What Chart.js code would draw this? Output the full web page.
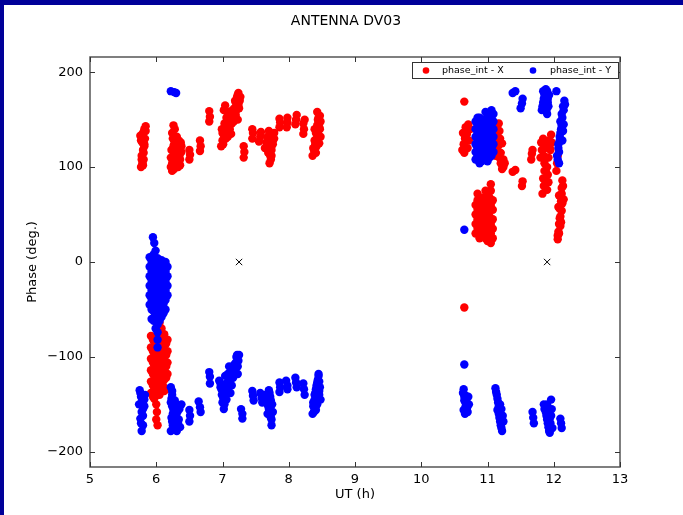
<!DOCTYPE html>
<html>
<head>
<meta charset="utf-8">
<script src="https://cdn.jsdelivr.net/npm/chart.js@4/dist/chart.umd.min.js"></script>
<style>
  html, body { margin: 0; padding: 0; background: #fff; }
  canvas { display: block; }
</style>
</head>
<body>
<canvas id="phaseChart" width="683" height="515"></canvas>
<script>
// ticks
const xTicks = [5, 6, 7, 8, 9, 10, 11, 12, 13];
const yTicks = [-200, -100, 0, 100, 200];

// phase_int - X  [UT (h), phase (deg)]
const phaseX = [
  [5.77,100],[5.79,104],[5.81,108],[5.78,112],[5.80,118],[5.82,122],[5.79,126],[5.83,130],[5.76,133],[5.80,136],[5.82,140],[5.84,143],[5.77,128],[5.81,115],[5.84,138],
  [5.79,132],[5.82,124],[5.80,102],[5.78,108],
  [6.24,96],[6.27,98],[6.30,100],[6.24,104],[6.32,106],[6.26,110],[6.35,112],[6.29,115],[6.23,118],[6.33,120],[6.27,124],[6.37,126],[6.25,130],[6.31,132],[6.24,136],[6.28,140],[6.26,144],[6.34,116],[6.30,108],[6.38,122],[6.22,100],[6.36,102],
  [6.26,100],[6.28,106],[6.32,112],[6.30,118],[6.26,122],[6.34,128],[6.29,128],[6.22,110],[6.33,100],[6.36,108],[6.38,116],
  [6.50,108],[6.51,113],[6.50,118],
  [6.66,117],[6.67,122],[6.66,128],
  [6.80,148],[6.81,153],[6.80,159],
  [6.98,122],[7.00,128],[7.02,134],[6.99,140],[7.03,146],[7.05,138],[7.08,132],[7.06,152],[7.09,144],[7.11,140],[7.12,150],[7.10,158],[7.14,146],[7.16,155],[7.18,162],[7.20,168],[7.22,174],[7.24,178],[7.21,160],[7.23,150],[7.26,170],[7.25,162],[7.02,160],[7.04,165],[7.13,135],
  [7.00,136],[7.03,140],[7.07,146],[7.11,152],[7.15,160],[7.19,170],[7.23,176],[7.17,148],[7.20,155],[7.24,166],[7.27,174],[7.01,124],[7.05,130],[7.08,156],
  [7.32,110],[7.33,116],[7.32,122],
  [7.45,130],[7.46,136],[7.45,140],
  [7.55,127],[7.57,132],[7.58,137],
  [7.64,120],[7.66,126],[7.68,132],[7.70,138],[7.72,112],[7.74,118],[7.76,124],[7.78,130],[7.71,104],[7.73,108],[7.75,135],[7.69,115],
  [7.67,122],[7.70,128],[7.73,134],[7.76,128],[7.72,120],[7.78,136],[7.74,112],
  [7.86,142],[7.87,147],[7.86,151],
  [7.97,142],[7.98,147],[7.98,152],
  [8.10,145],[8.11,150],[8.12,155],
  [8.22,135],[8.23,140],[8.22,146],[8.24,150],
  [8.36,112],[8.38,118],[8.40,124],[8.42,130],[8.44,136],[8.46,142],[8.45,148],[8.47,154],[8.43,158],[8.48,132],[8.39,140],[8.41,115],[8.46,125],[8.44,150],
  [8.37,120],[8.39,128],[8.41,136],[8.43,144],[8.45,152],[8.47,140],[8.48,148],[8.42,122],
  [5.92,-78],[5.92,-90],[5.92,-102],[5.92,-114],[5.92,-126],[5.92,-138],
  [5.95,-82],[5.95,-94],[5.95,-106],[5.95,-118],[5.95,-130],[5.95,-142],
  [5.97,-84],[5.97,-96],[5.97,-108],[5.97,-120],[5.97,-132],[5.97,-144],
  [6.00,-78],[6.00,-88],[6.00,-98],[6.00,-110],[6.00,-122],[6.00,-134],
  [6.02,-80],[6.02,-92],[6.02,-104],[6.02,-116],[6.02,-128],[6.02,-140],
  [6.05,-80],[6.05,-92],[6.05,-104],[6.05,-116],[6.05,-128],[6.05,-140],
  [6.07,-86],[6.07,-98],[6.07,-110],[6.07,-122],[6.07,-134],
  [6.10,-82],[6.10,-94],[6.10,-106],[6.10,-118],[6.10,-130],
  [6.12,-76],[6.12,-88],[6.12,-100],[6.12,-112],[6.12,-124],[6.12,-136],
  [6.15,-86],[6.15,-98],[6.15,-110],[6.15,-122],[6.15,-134],
  [6.17,-82],[6.17,-94],[6.17,-106],[6.17,-118],
  [6.05,-64],[6.08,-70],[6.00,-150],[6.01,-158],[6.00,-166],[6.02,-172],
  [10.65,169],[10.65,-48],
  [10.62,118],[10.64,124],[10.66,130],[10.63,136],[10.67,142],[10.70,120],[10.72,128],[10.69,135],[10.74,140],[10.65,115],[10.71,145],
  [10.82,30],[10.82,40],[10.82,50],[10.82,60],
  [10.85,35],[10.85,45],[10.85,55],[10.85,65],[10.85,72],
  [10.88,25],[10.88,35],[10.88,45],[10.88,55],[10.88,65],
  [10.91,30],[10.91,40],[10.91,50],[10.91,60],
  [10.94,28],[10.94,38],[10.94,48],[10.94,58],[10.94,68],
  [10.97,25],[10.97,35],[10.97,45],[10.97,55],[10.97,65],[10.97,75],
  [11.00,22],[11.00,32],[11.00,42],[11.00,52],[11.00,62],[11.00,72],
  [11.03,28],[11.03,38],[11.03,48],[11.03,55],[11.03,68],
  [11.05,20],[11.05,30],[11.05,40],[11.05,60],[11.05,75],[11.05,82],
  [11.08,25],[11.08,35],[11.08,45],[11.08,55],[11.08,65],
  [11.12,140],[11.14,134],[11.13,128],[11.16,122],[11.15,116],[11.18,110],[11.20,104],[11.22,98],[11.17,146],[11.24,108],[11.19,130],
  [11.14,120],[11.16,130],[11.18,138],[11.20,115],[11.22,125],[11.24,100],[11.12,112],[11.26,104],
  [11.38,95],[11.42,97],
  [11.52,80],[11.53,85],
  [11.66,108],[11.67,114],[11.68,118],
  [11.80,110],[11.82,118],[11.81,126],[11.84,130],
  [11.83,72],[11.85,80],[11.87,88],[11.88,96],[11.86,104],[11.90,76],[11.92,84],[11.91,92],[11.89,110],
  [11.84,88],[11.86,96],[11.88,84],[11.90,100],[11.92,110],[11.85,112],[11.87,120],[11.89,126],[11.93,128],[11.94,120],
  [11.95,118],[11.97,126],[11.96,134],
  [12.04,96],[12.05,104],[12.06,112],
  [12.06,24],[12.07,32],[12.08,40],[12.10,48],[12.09,56],[12.11,64],[12.12,72],[12.14,80],[12.13,86],[12.07,58],[12.11,42],[12.15,66],
  [12.08,30],[12.09,46],[12.10,38],[12.12,54],[12.13,62],[12.12,78],[12.08,70],[12.06,28]
];

// phase_int - Y  [UT (h), phase (deg)]
const phaseY = [
  [6.22,180],[6.27,179],[6.30,178],
  [5.95,26],[5.97,20],[5.99,12],
  [5.90,5],[5.90,-5],[5.90,-15],[5.90,-25],[5.90,-35],[5.90,-45],
  [5.93,0],[5.93,-10],[5.93,-20],[5.93,-30],[5.93,-40],[5.93,-50],[5.93,-60],
  [5.96,8],[5.96,-2],[5.96,-12],[5.96,-22],[5.96,-32],[5.96,-42],[5.96,-52],[5.96,-62],
  [5.99,2],[5.99,-8],[5.99,-18],[5.99,-28],[5.99,-38],[5.99,-48],[5.99,-58],[5.99,-70],
  [6.02,4],[6.02,-6],[6.02,-16],[6.02,-26],[6.02,-36],[6.02,-46],[6.02,-56],
  [6.05,-2],[6.05,-12],[6.05,-22],[6.05,-32],[6.05,-42],[6.05,-52],[6.05,-62],
  [6.08,2],[6.08,-8],[6.08,-18],[6.08,-28],[6.08,-38],[6.08,-48],[6.08,-58],
  [6.11,-4],[6.11,-14],[6.11,-24],[6.11,-34],[6.11,-44],[6.11,-54],
  [6.14,0],[6.14,-10],[6.14,-20],[6.14,-30],[6.14,-40],[6.14,-50],
  [6.17,-5],[6.17,-15],[6.17,-25],[6.17,-35],
  [6.02,-66],[6.02,-74],[6.02,-82],[6.02,-90],
  [5.75,-135],[5.77,-142],[5.74,-150],[5.78,-158],[5.76,-165],[5.80,-172],[5.78,-178],[5.82,-145],[5.80,-155],[5.83,-140],
  [5.76,-138],[5.78,-148],[5.80,-162],[5.77,-170],[5.82,-152],
  [6.22,-132],[6.24,-140],[6.22,-148],[6.26,-156],[6.23,-164],[6.25,-172],[6.22,-178],[6.30,-150],[6.32,-158],[6.34,-166],[6.36,-174],[6.31,-178],[6.38,-150],[6.28,-168],
  [6.24,-136],[6.24,-152],[6.25,-160],[6.24,-168],[6.28,-146],[6.30,-162],[6.33,-170],[6.35,-155],[6.27,-176],[6.23,-144],
  [6.50,-156],[6.51,-162],[6.50,-168],
  [6.64,-147],[6.66,-153],[6.67,-158],
  [6.80,-116],[6.81,-121],[6.81,-128],
  [6.95,-125],[6.97,-132],[6.99,-140],[7.00,-148],[7.02,-155],[7.04,-135],[7.06,-128],[7.08,-118],[7.10,-110],[7.12,-138],[7.14,-130],[7.16,-122],[7.18,-114],[7.20,-106],[7.22,-98],[7.24,-104],[7.23,-118],[7.06,-145],
  [6.97,-128],[6.99,-135],[7.01,-143],[7.03,-150],[7.05,-140],[7.08,-132],[7.10,-124],[7.12,-116],[7.14,-122],[7.16,-114],[7.18,-108],[7.21,-100],[7.23,-110],[7.25,-98],[7.02,-130],[7.04,-120],
  [7.28,-155],[7.30,-160],[7.30,-165],
  [7.45,-136],[7.46,-141],[7.47,-146],
  [7.57,-138],[7.59,-143],[7.60,-148],
  [7.65,-140],[7.67,-146],[7.69,-152],[7.71,-158],[7.73,-164],[7.70,-135],[7.72,-142],[7.75,-150],[7.74,-172],[7.68,-160],
  [7.66,-143],[7.68,-149],[7.70,-155],[7.72,-162],[7.74,-166],[7.73,-146],[7.71,-138],[7.76,-158],
  [7.86,-127],[7.87,-132],[7.86,-137],
  [7.96,-125],[7.98,-130],[7.98,-134],
  [8.10,-122],[8.11,-127],[8.12,-132],
  [8.22,-128],[8.23,-134],[8.24,-140],
  [8.36,-160],[8.37,-152],[8.39,-145],[8.40,-138],[8.42,-130],[8.44,-124],[8.45,-118],[8.46,-140],[8.47,-132],[8.43,-150],[8.41,-156],[8.48,-145],
  [8.37,-148],[8.39,-140],[8.41,-134],[8.43,-127],[8.45,-120],[8.44,-145],[8.46,-136],[8.38,-158],[8.40,-150],[8.46,-126],
  [11.38,178],[11.42,180],
  [11.50,162],[11.52,167],[11.53,172],
  [11.82,160],[11.84,168],[11.86,176],[11.88,182],[11.90,156],[11.92,164],[11.91,172],[11.87,180],
  [11.83,164],[11.85,172],[11.89,160],[11.91,168],[11.93,176],[11.84,180],[11.90,180],
  [12.04,180],
  [12.06,108],[12.08,116],[12.07,124],[12.09,132],[12.11,140],[12.10,148],[12.12,156],[12.14,164],[12.16,170],[12.13,128],[12.15,145],[12.05,112],
  [12.07,120],[12.09,128],[12.10,136],[12.12,144],[12.13,152],[12.15,160],[12.17,166],[12.08,104],[12.14,138],
  [10.82,108],[10.82,116],[10.82,124],[10.82,132],[10.82,140],[10.82,148],
  [10.85,112],[10.85,120],[10.85,128],[10.85,136],[10.85,144],[10.85,152],
  [10.88,104],[10.88,112],[10.88,120],[10.88,128],[10.88,136],[10.88,144],[10.88,152],
  [10.91,106],[10.91,114],[10.91,122],[10.91,130],[10.91,138],[10.91,146],
  [10.94,110],[10.94,118],[10.94,126],[10.94,134],[10.94,142],[10.94,150],
  [10.97,108],[10.97,116],[10.97,124],[10.97,132],[10.97,140],[10.97,150],[10.97,158],
  [11.00,106],[11.00,114],[11.00,122],[11.00,130],[11.00,138],[11.00,146],[11.00,156],
  [11.03,110],[11.03,118],[11.03,126],[11.03,134],[11.03,142],[11.03,150],
  [11.06,112],[11.06,120],[11.06,128],[11.06,136],[11.06,144],[11.06,152],[11.06,160],
  [11.09,116],[11.09,124],[11.09,132],[11.09,140],[11.09,148],[11.09,156],
  [10.65,34],[10.65,-108],
  [10.64,-134],[10.66,-140],[10.65,-146],[10.67,-152],[10.70,-158],[10.68,-145],[10.72,-150],[10.66,-160],
  [10.63,-138],[10.65,-142],[10.67,-148],[10.69,-154],[10.64,-156],[10.71,-142],
  [11.12,-133],[11.14,-140],[11.16,-148],[11.15,-156],[11.18,-164],[11.20,-172],[11.22,-178],[11.24,-168],[11.19,-150],
  [11.13,-137],[11.15,-144],[11.17,-152],[11.17,-160],[11.19,-168],[11.21,-175],[11.23,-162],[11.21,-155],
  [11.68,-158],[11.69,-164],[11.70,-170],
  [11.85,-150],[11.88,-158],[11.90,-166],[11.92,-174],[11.94,-180],[11.96,-145],[11.97,-155],[11.95,-170],
  [11.86,-155],[11.89,-162],[11.91,-170],[11.93,-178],[11.96,-162],[11.98,-175],[11.90,-150],[11.94,-165],
  [12.10,-165],[12.11,-170],[12.12,-175]
];

// reference crosses
const crossUT = [7.25, 11.9];
const crossPhase = [0, 0];

const toXY = (arr) => arr.map((p) => ({ x: p[0], y: p[1] }));
const fontFamily = "'DejaVu Sans', sans-serif";
const minus = (v) => String(v).replace("-", "\u2212");

//==========================================================================
// frame, ticks, title, labels, legend
const decor = {
  id: "decor",
  beforeDraw(chart) {
    const ctx = chart.ctx;
    ctx.save();
    ctx.fillStyle = "#ffffff";
    ctx.fillRect(0, 0, chart.width, chart.height);
    ctx.fillStyle = "#000099";
    ctx.fillRect(0, 0, chart.width, 5);
    ctx.fillRect(0, 0, 4, chart.height);
    ctx.restore();
  },
  afterDraw(chart) {
    const ctx = chart.ctx;
    const a = chart.chartArea;
    const xs = chart.scales.x;
    const ys = chart.scales.y;
    ctx.save();
    ctx.strokeStyle = "#555555";
    ctx.lineWidth = 1.5;
    ctx.strokeRect(a.left, a.top, a.right - a.left, a.bottom - a.top);

    ctx.lineWidth = 1;
    ctx.strokeStyle = "#333333";
    ctx.beginPath();
    xTicks.forEach((t) => {
      const px = Math.round(xs.getPixelForValue(t)) + 0.5;
      ctx.moveTo(px, a.bottom);
      ctx.lineTo(px, a.bottom - 5);
      ctx.moveTo(px, a.top);
      ctx.lineTo(px, a.top + 5);
    });
    yTicks.forEach((t) => {
      const py = Math.round(ys.getPixelForValue(t)) + 0.5;
      ctx.moveTo(a.left, py);
      ctx.lineTo(a.left + 5, py);
      ctx.moveTo(a.right, py);
      ctx.lineTo(a.right - 5, py);
    });
    ctx.stroke();

    ctx.fillStyle = "#000000";
    ctx.textAlign = "center";
    ctx.textBaseline = "middle";
    ctx.font = "14px " + fontFamily;
    ctx.fillText("ANTENNA DV03", 346, 21);
    ctx.font = "13px " + fontFamily;
    ctx.fillText("UT (h)", (a.left + a.right) / 2, 495);
    ctx.save();
    ctx.translate(33, (a.top + a.bottom) / 2);
    ctx.rotate(-Math.PI / 2);
    ctx.fillText("Phase (deg.)", 0, 0);
    ctx.restore();

    // legend
    ctx.fillStyle = "#ffffff";
    ctx.fillRect(412, 62, 206, 16);
    ctx.strokeStyle = "#333333";
    ctx.lineWidth = 1;
    ctx.strokeRect(412.5, 62.5, 206, 16);
    ctx.fillStyle = "#ff0000";
    ctx.beginPath();
    ctx.arc(426, 70.5, 3.3, 0, Math.PI * 2);
    ctx.fill();
    ctx.fillStyle = "#0000ff";
    ctx.beginPath();
    ctx.arc(533, 70.5, 3.3, 0, Math.PI * 2);
    ctx.fill();
    ctx.fillStyle = "#000000";
    ctx.textAlign = "left";
    ctx.font = "9.5px " + fontFamily;
    ctx.fillText("phase_int - X", 442, 71);
    ctx.fillText("phase_int - Y", 550, 71);
    ctx.restore();
  },
};

//==========================================================================
// chart
const phaseChart = new Chart(document.getElementById("phaseChart"), {
  type: "scatter",
  data: {
    datasets: [
      {
        label: "x",
        data: crossUT.map((u, i) => ({ x: u, y: crossPhase[i] })),
        pointStyle: "crossRot",
        pointRadius: 4.5,
        borderColor: "#000000",
        borderWidth: 1,
        order: 0,
      },
      {
        label: "phase_int - Y",
        data: toXY(phaseY),
        pointRadius: 4.2,
        backgroundColor: "#0000ff",
        borderColor: "#0000ff",
        borderWidth: 0,
        order: 1,
      },
      {
        label: "phase_int - X",
        data: toXY(phaseX),
        pointRadius: 4.2,
        backgroundColor: "#ff0000",
        borderColor: "#ff0000",
        borderWidth: 0,
        order: 2,
      },
    ],
  },
  options: {
    responsive: false,
    animation: false,
    devicePixelRatio: 1,
    layout: { padding: { top: 57, right: 63, left: 0, bottom: 0 } },
    scales: {
      x: {
        type: "linear",
        min: 5,
        max: 13,
        afterFit: (s) => { s.height = 48; },
        afterBuildTicks: (s) => { s.ticks = xTicks.map((v) => ({ value: v })); },
        grid: { display: false, drawTicks: false },
        border: { display: false },
        ticks: {
          color: "#000000",
          padding: 5,
          font: { family: fontFamily, size: 13 },
          callback: (v) => minus(v),
        },
      },
      y: {
        type: "linear",
        min: -216,
        max: 216,
        afterFit: (s) => { s.width = 90; },
        afterBuildTicks: (s) => { s.ticks = yTicks.map((v) => ({ value: v })); },
        grid: { display: false, drawTicks: false },
        border: { display: false },
        ticks: {
          color: "#000000",
          padding: 7,
          font: { family: fontFamily, size: 13 },
          callback: (v) => minus(v),
        },
      },
    },
    plugins: {
      legend: { display: false },
      tooltip: { enabled: false },
    },
  },
  plugins: [decor],
});
</script>
</body>
</html>
